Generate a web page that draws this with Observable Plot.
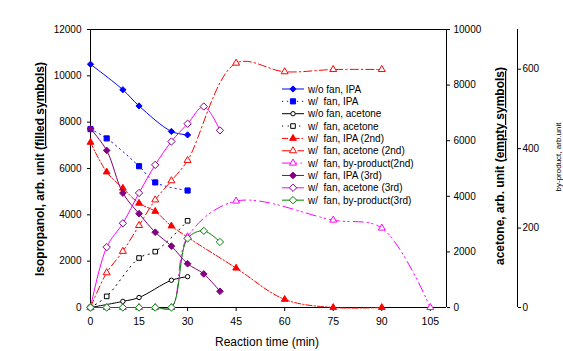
<!DOCTYPE html>
<html>
<head>
<meta charset="utf-8">
<script src="https://cdn.jsdelivr.net/npm/d3@7"></script>
<script src="https://cdn.jsdelivr.net/npm/@observablehq/plot@0.6"></script>
<style>
  html, body { margin: 0; padding: 0; background: #fff; }
  #chart { width: 563px; height: 351px; }
</style>
</head>
<body>
<div id="chart"></div>
<script>
// ---- data ----
const timeIpaNoFan = [0, 10, 15, 25, 30];
const ipaNoFan = [10500, 9400, 8700, 7600, 7450];

const timeIpaFan = [0, 5, 15, 20, 30];
const ipaFan = [7700, 7300, 6100, 5400, 5050];

const timeAcNoFan = [0, 10, 15, 25, 30];
const acetoneNoFan = [0, 220, 360, 980, 1110];

const timeAcFan = [0, 5, 15, 20, 30];
const acetoneFan = [0, 400, 1780, 2010, 3120];

const timeIpa2 = [0, 5, 10, 15, 20, 25, 45, 60, 75, 90];
const ipa2 = [7130, 5850, 5150, 4500, 4150, 3520, 1700, 350, 0, 0];

const timeAc2 = [0, 5, 10, 15, 20, 25, 30, 45, 60, 75, 90];
const acetone2 = [0, 1250, 2020, 2950, 3870, 4560, 5290, 8790, 8480, 8560, 8560];

const timeBp2 = [0, 5, 10, 15, 20, 25, 30, 45, 75, 90, 105];
const byproduct2 = [0, 0, 0, 0, 0, 0, 178, 268, 220, 200, 0];

const time3 = [0, 5, 10, 15, 20, 25, 30, 35, 40];
const ipa3 = [7720, 6780, 4940, 4050, 3250, 2650, 1890, 1450, 700];
const acetone3 = [0, 2170, 3030, 4120, 5130, 5970, 6610, 7230, 6370];
const byproduct3 = [0, 0, 0, 0, 0, 0, 174, 193, 165];

const xTicks = [0, 15, 30, 45, 60, 75, 90, 105];
const ipaTicks = [0, 2000, 4000, 6000, 8000, 10000, 12000];
const acetoneTicks = [0, 2000, 4000, 6000, 8000, 10000];
const byproductTicks = [0, 200, 400, 600];

const legendLabels = [
  "w/o fan, IPA", "w/  fan, IPA", "w/o fan, acetone", "w/  fan, acetone",
  "w/  fan, IPA (2nd)", "w/  fan, acetone (2nd)", "w/  fan, by-product(2nd)",
  "w/  fan, IPA (3rd)", "w/  fan, acetone (3rd)", "w/  fan, by-product(3rd)"
];

// ---- scales: all series drawn on the IPA (left) scale ----
const ipaMax = 12000, acetoneMax = 10000, byproductMax = 700, xMax = 110;
const kAc = ipaMax / acetoneMax;
const kBp = ipaMax / byproductMax;

const BLUE = "#0000ff", RED = "#ff0000", MAG = "#ff00ff", PUR = "#800080", GRN = "#008000", BLK = "#000000";

const series = [
  {t: timeIpaNoFan, v: ipaNoFan, k: 1, line: BLUE, dash: null, sym: "diamond2", r: 2.8, fill: BLUE, stroke: BLUE},
  {t: timeIpaFan, v: ipaFan, k: 1, line: BLUE, dash: "1.2,3.8", sym: "square", r: 2.9, fill: BLUE, stroke: BLUE},
  {t: timeAcNoFan, v: acetoneNoFan, k: kAc, line: BLK, dash: null, sym: "circle", r: 2.2, fill: "white", stroke: BLK},
  {t: timeAcFan, v: acetoneFan, k: kAc, line: BLK, dash: "1.2,4.5", sym: "square", r: 2.6, fill: "white", stroke: BLK},
  {t: timeIpa2, v: ipa2, k: 1, line: RED, dash: "6,2,1.5,2", sym: "triangle", r: 2.5, fill: RED, stroke: RED},
  {t: timeAc2, v: acetone2, k: kAc, line: RED, dash: "8,3,1.5,3", sym: "triangle", r: 2.6, fill: "white", stroke: RED},
  {t: timeBp2, v: byproduct2, k: kBp, line: MAG, dash: "10,4,1.5,3,1.5,4", sym: "triangle", r: 2.6, fill: "white", stroke: MAG},
  {t: time3, v: ipa3, k: 1, line: PUR, dash: null, sym: "diamond2", r: 3.0, fill: PUR, stroke: PUR},
  {t: time3, v: acetone3, k: kAc, line: MAG, dash: null, sym: "diamond2", r: 3.3, fill: "white", stroke: PUR},
  {t: time3, v: byproduct3, k: kBp, line: GRN, dash: null, sym: "diamond2", r: 3.3, fill: "white", stroke: GRN}
];

const font = "'Liberation Sans', Arial, sans-serif";
const marks = [];

// frame
marks.push(Plot.ruleY([0, ipaMax], {stroke: BLK, strokeWidth: 1}));
marks.push(Plot.ruleX([0, xMax], {stroke: BLK, strokeWidth: 1}));
// by-product axis line (offset to the right of the frame)
marks.push(Plot.ruleX([xMax], {y1: 0, y2: byproductMax * kBp, dx: 71, stroke: BLK, strokeWidth: 1}));

// axes
marks.push(Plot.axisX(xTicks, {tickSize: 4, tickPadding: 6, fontSize: 10.5, label: null, tickFormat: d => String(d)}));
marks.push(Plot.axisY(ipaTicks, {anchor: "left", tickSize: 3, tickPadding: 6, fontSize: 10, label: null, tickFormat: d => String(d)}));
marks.push(Plot.axisY(acetoneTicks.map(d => d * kAc), {anchor: "right", tickSize: 3, tickPadding: 4, fontSize: 10, label: null, tickFormat: d => String(Math.round(d / kAc))}));
marks.push(Plot.axisY(byproductTicks.map(d => d * kBp), {anchor: "right", dx: 71, tickSize: 3, tickPadding: 2, fontSize: 10, label: null, tickFormat: d => String(Math.round(d / kBp))}));

// series
for (const s of series) {
  const data = s.t.map((x, i) => ({x, y: s.v[i] * s.k}));
  marks.push(Plot.line(data, {x: "x", y: "y", stroke: s.line, strokeWidth: 1, strokeDasharray: s.dash, curve: "catmull-rom"}));
  marks.push(Plot.dot(data, {x: "x", y: "y", symbol: s.sym, r: s.r, fill: s.fill, stroke: s.stroke, strokeWidth: 1}));
}

const plot = Plot.plot({
  width: 563,
  height: 351,
  marginLeft: 90,
  marginRight: 117,
  marginTop: 29,
  marginBottom: 44,
  x: {domain: [0, xMax], nice: false},
  y: {domain: [0, ipaMax], nice: false},
  style: {fontFamily: font, fontSize: "10px", background: "white", color: "black", overflow: "visible"},
  marks
});
document.getElementById("chart").appendChild(plot);

// ---- titles and legend ----
const svg = d3.select(plot);

function rotTitle(x, y, parts, size, weight) {
  const t = svg.append("text")
    .attr("transform", `translate(${x},${y}) rotate(-90)`)
    .attr("text-anchor", "middle")
    .style("font-family", font).style("font-size", size + "px").style("font-weight", weight)
    .attr("fill", "black");
  for (const [txt, ul] of parts) {
    t.append("tspan").text(txt).style("text-decoration", ul ? "underline" : null);
  }
}
rotTitle(44, 169, [["Isopropanol, arb. unit (", false], ["filled symbols", true], [")", false]], 12, "bold");
rotTitle(504, 166, [["acetone, arb. unit (", false], ["empty symbols", true], [")", false]], 12, "bold");
rotTitle(561, 157, [["by-product, arb.unit", false]], 8, "normal");

svg.append("text").attr("x", 267).attr("y", 346).attr("text-anchor", "middle")
  .style("font-family", font).style("font-size", "12px").attr("fill", "black")
  .text("Reaction time (min)");

// legend
const lg = svg.append("g").attr("text-anchor", "start");
const symPath = {diamond2: d3.symbolDiamond2, square: d3.symbolSquare, circle: d3.symbolCircle, triangle: d3.symbolTriangle};
series.forEach((s, i) => {
  const y = 89 + i * 12.35;
  lg.append("line").attr("x1", 282).attr("x2", 304).attr("y1", y).attr("y2", y)
    .attr("stroke", s.line).attr("stroke-width", 1).attr("stroke-dasharray", s.dash);
  lg.append("path").attr("transform", `translate(293,${y})`)
    .attr("d", d3.symbol(symPath[s.sym], Math.PI * s.r * s.r)())
    .attr("fill", s.fill).attr("stroke", s.stroke).attr("stroke-width", 1);
  lg.append("text").attr("x", 308).attr("y", y + 3.6).attr("text-anchor", "start")
    .style("font-family", font).style("font-size", "10px").style("white-space", "pre")
    .attr("xml:space", "preserve").attr("fill", "black").text(legendLabels[i]);
});
</script>
</body>
</html>
